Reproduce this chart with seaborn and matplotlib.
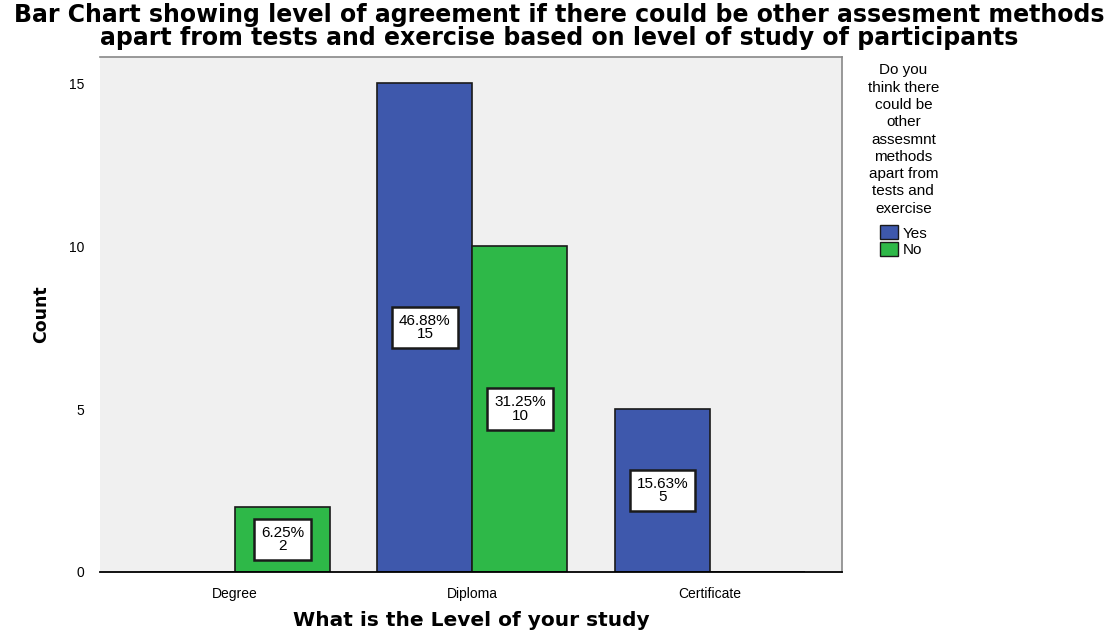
import matplotlib
matplotlib.use("Agg")
import matplotlib.pyplot as plt
import matplotlib.patches as mpatches
import seaborn as sns
import pandas as pd

# data
levels = ["Degree", "Diploma", "Certificate"]
answers = ["Yes", "No"]
count_yes = [0, 15, 5]
count_no = [2, 10, 0]
pct_yes = ["", "46.88%", "15.63%"]
pct_no = ["6.25%", "31.25%", ""]

colors = {"Yes": "#3e58ac", "No": "#2eb848"}

df = pd.DataFrame({
    "level": levels * 2,
    "answer": ["Yes"] * 3 + ["No"] * 3,
    "count": count_yes + count_no,
})

sns.set_style("white")
plt.rcParams["font.family"] = ["Liberation Sans", "DejaVu Sans"]
plt.rcParams["text.color"] = "black"
plt.rcParams["axes.labelcolor"] = "black"

fig = plt.figure(figsize=(11.18, 6.33), dpi=100)
ax = fig.add_axes([0.0894, 0.0964, 0.6637, 0.8136])
ax.set_facecolor("#f0f0f0")

sns.barplot(data=df, x="level", y="count", hue="answer", order=levels,
            hue_order=answers, palette=colors, width=0.8, saturation=1,
            edgecolor="#1a1a1a", linewidth=1.2, ax=ax, legend=False)

# value boxes in the middle of each bar
labels = {"Yes": (count_yes, pct_yes), "No": (count_no, pct_no)}
for cont, ans in zip(ax.containers, answers):
    counts, pcts = labels[ans]
    for bar, c, p in zip(cont, counts, pcts):
        if c <= 0:
            continue
        x = bar.get_x() + bar.get_width() / 2
        ax.text(x, c / 2, f"{p}\n{c}", ha="center", va="center", fontsize=11,
                linespacing=0.95,
                bbox=dict(boxstyle="square,pad=0.45", fc="white", ec="#1a1a1a", lw=1.8))

ax.set_xlim(-0.568, 2.556)
ax.set_ylim(0, 15.8)
ax.set_yticks([0, 5, 10, 15])
ax.tick_params(axis="both", direction="out", length=7, width=1, colors="black",
               labelsize=10, pad=4)
ax.tick_params(axis="x", length=8, pad=3)

for side in ["top", "right"]:
    ax.spines[side].set_color("#888888")
    ax.spines[side].set_linewidth(1.2)
ax.spines["left"].set_visible(False)
ax.spines["bottom"].set_color("black")
ax.spines["bottom"].set_linewidth(1.3)

ax.set_xlabel("What is the Level of your study", fontsize=14.5, fontweight="bold",
              family=["DejaVu Sans"], labelpad=7)
ax.set_ylabel("Count", fontsize=12.5, fontweight="bold", family=["DejaVu Sans"],
              labelpad=14)

fig.suptitle("Bar Chart showing level of agreement if there could be other assesment methods\n"
             "apart from tests and exercise based on level of study of participants",
             fontsize=17, fontweight="bold", family=["DejaVu Sans"], y=0.995,
             linespacing=0.92)

handles = [mpatches.Patch(facecolor=colors[a], edgecolor="#1a1a1a", label=a)
           for a in answers]
leg = fig.legend(handles=handles,
                 title="Do you\nthink there\ncould be\nother\nassesmnt\nmethods\napart from\ntests and\nexercise",
                 loc="upper center", bbox_to_anchor=(0.808, 0.912), frameon=False,
                 fontsize=11, title_fontsize=11, handlelength=1.2, handleheight=1.0,
                 handletextpad=0.3, labelspacing=0.1, borderpad=0,
                 alignment="center")
leg.get_title().set_multialignment("center")
leg.get_title().set_linespacing(1.3)
leg._legend_box.sep = 7

fig.savefig("out.png", dpi=100)
